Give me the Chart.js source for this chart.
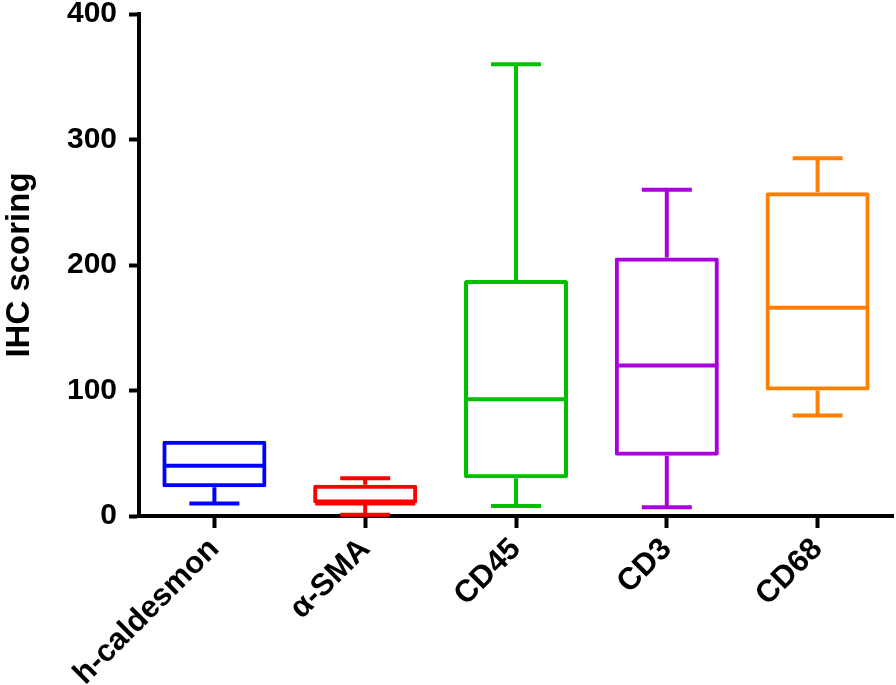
<!DOCTYPE html>
<html>
<head>
<meta charset="utf-8">
<script src="https://cdn.jsdelivr.net/npm/chart.js@4.4.1/dist/chart.umd.min.js"></script>
<style>
  html, body { margin: 0; padding: 0; background: #fff; }
  #wrap { width: 896px; height: 685px; }
</style>
</head>
<body>
<div id="wrap"><canvas id="chart" width="896" height="685"></canvas></div>
<script>
// box plot values (IHC scoring per marker)
const markers = ['h-caldesmon', 'α-SMA', 'CD45', 'CD3', 'CD68'];
const colors  = ['#0000ff', '#ff0000', '#00c000', '#aa00dd', '#ff8000'];
const mins    = [10, 1, 8, 7, 80];
const q1s     = [23, 10, 30, 48, 100];
const medians = [40, 10, 93, 120, 166];
const q3s     = [60, 25, 188, 206, 258];
const maxs    = [60, 30, 360, 260, 285];
const yTicks  = [0, 100, 200, 300, 400];

const FONT = "'Liberation Sans', Arial, sans-serif";

// medians + whiskers, drawn on top of the floating-bar boxes
const whiskerPlugin = {
  id: 'whiskers',
  afterDatasetsDraw(chart) {
    const { ctx, scales: { x, y } } = chart;
    const meta = chart.getDatasetMeta(0);
    ctx.save();
    ctx.lineWidth = 4;
    ctx.lineCap = 'butt';
    meta.data.forEach((bar, i) => {
      const cx = x.getPixelForValue(i);
      const half = bar.width / 2;
      const cap = bar.width * 0.24;
      const yMed = y.getPixelForValue(medians[i]);
      const yQ1 = y.getPixelForValue(q1s[i]);
      const yQ3 = y.getPixelForValue(q3s[i]);
      const yMin = y.getPixelForValue(mins[i]);
      const yMax = y.getPixelForValue(maxs[i]);
      ctx.strokeStyle = colors[i];
      ctx.beginPath();
      ctx.moveTo(cx - half + 2, yMed);
      ctx.lineTo(cx + half - 2, yMed);
      if (maxs[i] > q3s[i]) {
        ctx.moveTo(cx, yQ3);
        ctx.lineTo(cx, yMax);
        ctx.moveTo(cx - cap, yMax);
        ctx.lineTo(cx + cap, yMax);
      }
      if (mins[i] < q1s[i]) {
        ctx.moveTo(cx, yQ1);
        ctx.lineTo(cx, yMin);
        ctx.moveTo(cx - cap, yMin);
        ctx.lineTo(cx + cap, yMin);
      }
      ctx.stroke();
    });
    ctx.restore();
  }
};

new Chart(document.getElementById('chart').getContext('2d'), {
  type: 'bar',
  data: {
    labels: markers,
    datasets: [{
      data: q1s.map((q, i) => [q, q3s[i]]),
      backgroundColor: 'rgba(0,0,0,0)',
      borderColor: colors,
      borderWidth: 4,
      borderRadius: 2,
      borderSkipped: false,
      categoryPercentage: 1,
      barPercentage: 0.69
    }]
  },
  options: {
    responsive: false,
    animation: false,
    devicePixelRatio: 1,
    layout: { padding: { top: 14, right: 3, left: 0, bottom: 0 } },
    plugins: {
      legend: { display: false },
      tooltip: { enabled: false }
    },
    scales: {
      x: {
        offset: true,
        afterFit: s => { s.height = 169; s.paddingLeft = 0; s.paddingRight = 0; },
        grid: {
          offset: false,
          drawOnChartArea: false,
          drawTicks: true,
          tickLength: 12,
          tickWidth: 4,
          tickColor: '#000'
        },
        border: { display: true, width: 4, color: '#000' },
        ticks: {
          minRotation: 45,
          maxRotation: 45,
          padding: 3,
          color: '#000',
          font: { family: FONT, size: 31, weight: 'bold' }
        }
      },
      y: {
        min: 0,
        max: 400,
        afterFit: s => { s.width = 139; s.paddingTop = 0; s.paddingBottom = 0; },
        afterBuildTicks: s => { s.ticks = yTicks.map(v => ({ value: v })); },
        grid: {
          drawOnChartArea: false,
          drawTicks: true,
          tickLength: 10,
          tickWidth: 4,
          tickColor: '#000'
        },
        border: { display: true, width: 4, color: '#000' },
        ticks: {
          padding: 12,
          color: '#000',
          font: { family: FONT, size: 30, weight: 'bold' }
        },
        title: {
          display: true,
          text: 'IHC scoring',
          color: '#000',
          padding: { top: 0, bottom: 0 },
          font: { family: FONT, size: 33, weight: 'bold' }
        }
      }
    }
  },
  plugins: [whiskerPlugin]
});
</script>
</body>
</html>
